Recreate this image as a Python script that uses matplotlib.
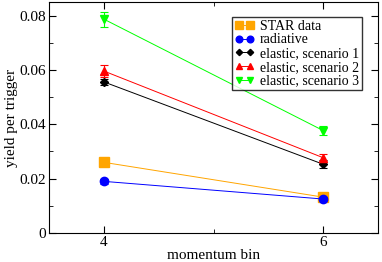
import numpy as np
import matplotlib
matplotlib.use('Agg')
import matplotlib.pyplot as plt
from matplotlib.ticker import MultipleLocator

plt.rcParams['font.family'] = 'Liberation Serif'

bins = [4, 6]
star = [0.026, 0.0132]
star_err = [0.0015, 0.0008]
radiative = [0.019, 0.0125]
radiative_err = [0.001, 0.0008]
elastic1 = [0.0556, 0.0253]
elastic1_err = [0.001, 0.0015]
elastic2 = [0.0596, 0.0277]
elastic2_err = [0.0022, 0.0015]
elastic3 = [0.0787, 0.0377]
elastic3_err = [0.0028, 0.0018]

fig = plt.figure(figsize=(3.82, 2.62), dpi=100)
ax = fig.add_axes([49/382, 29/262, 329/382, 231/262])

series = [
    (star, star_err, 'orange', 's', 7, 'STAR data'),
    (radiative, radiative_err, 'blue', 'o', 6, 'radiative'),
    (elastic1, elastic1_err, 'black', 'D', 4, 'elastic, scenario 1'),
    (elastic2, elastic2_err, 'red', '^', 6, 'elastic, scenario 2'),
    (elastic3, elastic3_err, 'lime', 'v', 6, 'elastic, scenario 3'),
]
for y, e, c, m, ms, lab in series:
    ax.errorbar(bins, y, yerr=e, color=c, fmt='none', capsize=3,
                elinewidth=0.8, capthick=0.8)
    ax.plot(bins, y, color=c, marker=m, ms=ms, lw=0.7, label=lab)

ax.set_xlim(3.5, 6.5)
ax.set_ylim(0, 0.085)
ax.xaxis.set_major_locator(MultipleLocator(2))
ax.xaxis.set_minor_locator(MultipleLocator(1))
ax.yaxis.set_major_locator(MultipleLocator(0.02))
ax.yaxis.set_minor_locator(MultipleLocator(0.01))
ax.set_yticklabels(['0' if t == 0 else '%.2f' % t for t in ax.get_yticks()])
ax.tick_params(which='both', direction='in', top=True, right=True, labelsize=11)
ax.tick_params(which='major', length=5, pad=2)
ax.tick_params(which='minor', length=3)
ax.set_xlabel('momentum bin', fontsize=11, labelpad=0)
ax.set_ylabel('yield per trigger', fontsize=11, labelpad=1)

ax.legend(loc='upper right', bbox_to_anchor=(0.951, 0.935), fontsize=10,
          frameon=True, fancybox=False, edgecolor='black', handlelength=1.4,
          handletextpad=0.4, borderpad=0.2, labelspacing=0.05, numpoints=2,
          markerscale=0.8, borderaxespad=0)

fig.savefig('out.png', dpi=100)
